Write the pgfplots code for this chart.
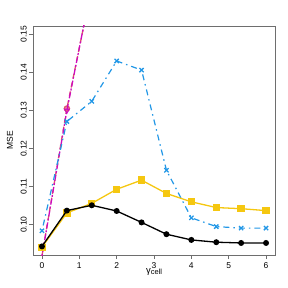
\documentclass[border=0pt]{standalone}
\usepackage{fontspec}
\setmainfont{Liberation Sans}
\usepackage{pgfplots}
\pgfplotsset{compat=1.18}
\definecolor{rblack}{HTML}{000000}
\definecolor{rred}{HTML}{DF536B}
\definecolor{rblue}{HTML}{2297E6}
\definecolor{rmag}{HTML}{CD0BBC}
\definecolor{ryel}{HTML}{F5C710}
\definecolor{boxgray}{HTML}{6E6E6E}
\begin{document}
\begin{tikzpicture}[x=1bp,y=1bp]
\path[use as bounding box] (0,0) rectangle (288,288);
\begin{axis}[
  at={(33bp,33bp)}, anchor=south west,
  scale only axis, width=242bp, height=229bp,
  xmin=-0.24, xmax=6.24, ymin=0.09204, ymax=0.15218,
  xtick={0,1,2,3,4,5,6}, ytick={0.10,0.11,0.12,0.13,0.14,0.15},
  tick align=outside, tick pos=left,
  major tick length=4bp,
  axis line style={boxgray, line width=0.7bp},
  every tick/.style={boxgray, line width=0.7bp},
  /pgf/number format/assume math mode=true,
  yticklabel style={/pgf/number format/fixed, /pgf/number format/fixed zerofill, /pgf/number format/precision=2, rotate=90, anchor=south, inner sep=0pt, yshift=2bp},
  xticklabel style={inner sep=0pt, anchor=north, yshift=-3bp},
  ticklabel style={font=\fontsize{8.5}{10}\selectfont},
  scaled y ticks=false,
  ylabel={MSE}, ylabel style={font=\fontsize{8.5}{10}\selectfont, at={(axis description cs:-0.095,0.5)}, anchor=center, inner sep=0pt},
  xlabel={γ\raisebox{-0.35ex}{\fontsize{7.5}{8}\selectfont cell}}, xlabel style={font=\fontsize{9.5}{11}\selectfont, at={(axis description cs:0.5,0)}, anchor=north, yshift=-13bp, inner sep=0pt},
  clip mode=individual,
]
% red dashed, circles
\addplot[rred, line width=1.3bp, dash pattern=on 5bp off 4bp, mark=*, mark size=2.6bp, mark options={solid, fill=rred!60, draw=rred}]
  coordinates {(0,0.0918) (0.667,0.1305) (1.333,0.1624) (2,0.19)};
% magenta twodash, triangles down
\addplot[rmag, line width=1.3bp, dash pattern=on 2bp off 2bp on 6bp off 2bp, mark=triangle, mark size=2.8bp, mark options={solid, rotate=180, line width=1bp}]
  coordinates {(0,0.0918) (0.667,0.1300) (1.333,0.1628) (2,0.19)};
% blue dotdash, crosses
\addplot[rblue, line width=1.2bp, dash pattern=on 1.5bp off 4bp on 6bp off 4bp, mark=x, mark size=3bp, mark options={solid, line width=1.3bp}]
  coordinates {(0,0.0984) (0.667,0.1271) (1.333,0.1324) (2,0.1430) (2.667,0.1406) (3.333,0.1143) (4,0.1018) (4.667,0.0995) (5.333,0.0991) (6,0.0991)};
% yellow solid, squares
\addplot[ryel, line width=1.3bp, mark=square*, mark size=3bp, mark options={solid}]
  coordinates {(0,0.0941) (0.667,0.1031) (1.333,0.1056) (2,0.1093) (2.667,0.1117) (3.333,0.1082) (4,0.1060) (4.667,0.1045) (5.333,0.1042) (6,0.1037)};
% black solid, dots
\addplot[rblack, line width=1.3bp, mark=*, mark size=2.3bp, mark options={solid}]
  coordinates {(0,0.0943) (0.667,0.1037) (1.333,0.1051) (2,0.1036) (2.667,0.1006) (3.333,0.0975) (4,0.0960) (4.667,0.0954) (5.333,0.0952) (6,0.0952)};
\end{axis}
\end{tikzpicture}
\end{document}
